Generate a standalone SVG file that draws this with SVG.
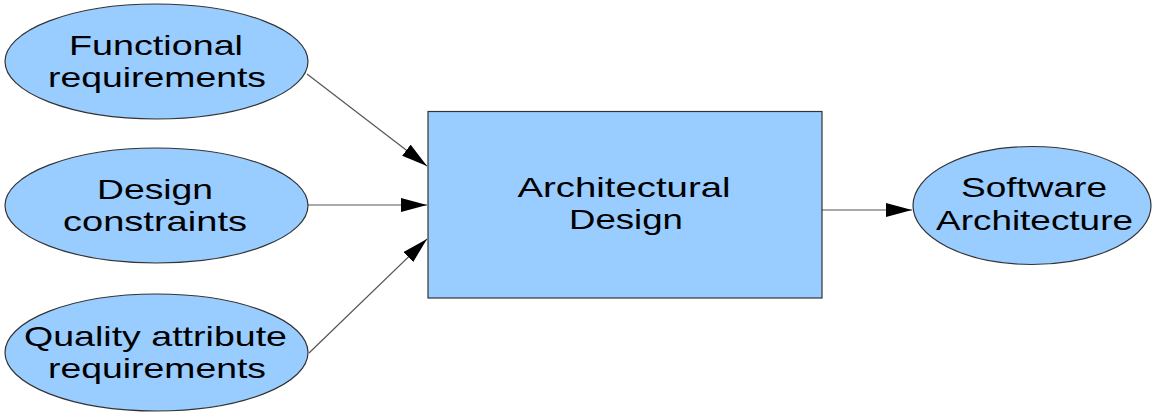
<svg xmlns="http://www.w3.org/2000/svg" width="1153" height="413" viewBox="0 0 1153 413">
<style>
.node{fill:#99ccff;stroke:#333333;stroke-width:1.2}
.lbl{font-family:"Liberation Sans",Arial,sans-serif;font-size:28px;fill:#000;text-anchor:middle}
.edge{stroke:#555555;stroke-width:1.2;fill:none}
</style>
<defs>
<marker id="arr" markerUnits="userSpaceOnUse" markerWidth="26" markerHeight="14" refX="26" refY="7" orient="auto">
<path d="M0,0 L26,7 L0,14 z" fill="#000"/>
</marker>
</defs>
<rect width="1153" height="413" fill="#ffffff"/>
<g id="connectors">
<line class="edge" x1="307" y1="74" x2="427" y2="166" marker-end="url(#arr)"/>
<line class="edge" x1="308" y1="205" x2="427" y2="205" marker-end="url(#arr)"/>
<line class="edge" x1="309" y1="353" x2="427" y2="239" marker-end="url(#arr)"/>
<line class="edge" x1="822" y1="210" x2="912" y2="210" marker-end="url(#arr)"/>
</g>
<g id="functional">
<ellipse class="node" cx="156.5" cy="61.5" rx="151.5" ry="57.5"/>
<text class="lbl" x="156" y="55" textLength="174" lengthAdjust="spacingAndGlyphs">Functional</text>
<text class="lbl" x="157" y="87" textLength="218" lengthAdjust="spacingAndGlyphs">requirements</text>
</g>
<g id="design-constraints">
<ellipse class="node" cx="156.5" cy="205.5" rx="151.5" ry="57.5"/>
<text class="lbl" x="155" y="199" textLength="116" lengthAdjust="spacingAndGlyphs">Design</text>
<text class="lbl" x="155" y="231" textLength="184" lengthAdjust="spacingAndGlyphs">constraints</text>
</g>
<g id="quality">
<ellipse class="node" cx="156.5" cy="352.5" rx="151.5" ry="58.5"/>
<text class="lbl" x="155.5" y="346" textLength="263" lengthAdjust="spacingAndGlyphs">Quality attribute</text>
<text class="lbl" x="157" y="378" textLength="218" lengthAdjust="spacingAndGlyphs">requirements</text>
</g>
<g id="architectural-design">
<rect class="node" x="428" y="111.5" width="394" height="186.5"/>
<text class="lbl" x="624" y="197" textLength="213" lengthAdjust="spacingAndGlyphs">Architectural</text>
<text class="lbl" x="626" y="229" textLength="114" lengthAdjust="spacingAndGlyphs">Design</text>
</g>
<g id="software-architecture">
<ellipse class="node" cx="1032" cy="205.5" rx="119" ry="59"/>
<text class="lbl" x="1034" y="197" textLength="146" lengthAdjust="spacingAndGlyphs">Software</text>
<text class="lbl" x="1034.5" y="230" textLength="197" lengthAdjust="spacingAndGlyphs">Architecture</text>
</g>
</svg>
